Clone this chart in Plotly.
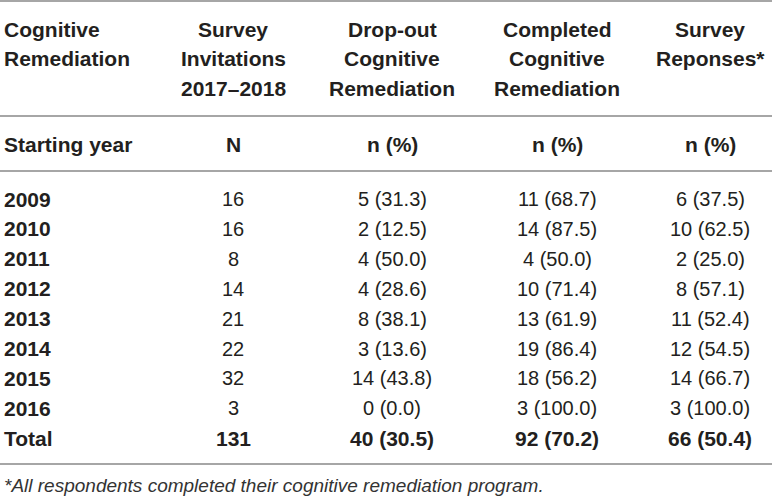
import plotly.graph_objects as go

# table content
header_lines = [
    ["Cognitive", "Remediation"],
    ["Survey", "Invitations", "2017–2018"],
    ["Drop-out", "Cognitive", "Remediation"],
    ["Completed", "Cognitive", "Remediation"],
    ["Survey", "Reponses*"],
]
subheaders = ["Starting year", "N", "n (%)", "n (%)", "n (%)"]

years = ["2009", "2010", "2011", "2012", "2013", "2014", "2015", "2016"]
invitations = [16, 16, 8, 14, 21, 22, 32, 3]
dropout_n = [5, 2, 4, 4, 8, 3, 14, 0]
dropout_pct = [31.3, 12.5, 50.0, 28.6, 38.1, 13.6, 43.8, 0.0]
completed_n = [11, 14, 4, 10, 13, 19, 18, 3]
completed_pct = [68.7, 87.5, 50.0, 71.4, 61.9, 86.4, 56.2, 100.0]
responses_n = [6, 10, 2, 8, 11, 12, 14, 3]
responses_pct = [37.5, 62.5, 25.0, 57.1, 52.4, 54.5, 66.7, 100.0]

total_label = "Total"
total_invitations = 131
total_dropout = (40, 30.5)
total_completed = (92, 70.2)
total_responses = (66, 50.4)

footnote = "*All respondents completed their cognitive remediation program."

W, H = 772, 498
col_x = [2, 233, 392, 557, 710]
header_y0, header_step = 29, 29.5
sub_y = 144
row_y0, row_step = 199, 29.9
rules_y = [1, 116, 171, 464]
foot_y = 485

ink = "#231f20"
bold = dict(family="Liberation Sans", size=21, color=ink, weight="bold")
plain = dict(family="Liberation Sans", size=20, color=ink)
ital = dict(family="Liberation Sans", size=19, color="#333333", style="italic")


def cell(fig, col, y, text, font):
    fig.add_annotation(
        x=col_x[col], y=y, xref="x", yref="y", text=text, showarrow=False,
        xanchor="left" if col == 0 else "center", yanchor="middle", font=font,
    )


def fmt(n, p):
    return f"{n} ({p:.1f})"


fig = go.Figure()

for c, lines in enumerate(header_lines):
    for i, line in enumerate(lines):
        cell(fig, c, header_y0 + i * header_step, line, bold)

for c, s in enumerate(subheaders):
    cell(fig, c, sub_y, s, bold)

for r, yr in enumerate(years):
    y = row_y0 + r * row_step
    cell(fig, 0, y, yr, bold)
    cell(fig, 1, y, str(invitations[r]), plain)
    cell(fig, 2, y, fmt(dropout_n[r], dropout_pct[r]), plain)
    cell(fig, 3, y, fmt(completed_n[r], completed_pct[r]), plain)
    cell(fig, 4, y, fmt(responses_n[r], responses_pct[r]), plain)

y = row_y0 + len(years) * row_step
cell(fig, 0, y, total_label, bold)
cell(fig, 1, y, str(total_invitations), bold)
cell(fig, 2, y, fmt(*total_dropout), bold)
cell(fig, 3, y, fmt(*total_completed), bold)
cell(fig, 4, y, fmt(*total_responses), bold)

cell(fig, 0, foot_y, footnote, ital)

for ry in rules_y:
    fig.add_shape(type="line", x0=0, x1=W, y0=ry, y1=ry, xref="x", yref="y",
                  line=dict(color="#a6a6a6", width=2))

fig.update_xaxes(range=[0, W], visible=False, fixedrange=True)
fig.update_yaxes(range=[H, 0], visible=False, fixedrange=True)
fig.update_layout(
    width=W, height=H, margin=dict(l=0, r=0, t=0, b=0),
    paper_bgcolor="white", plot_bgcolor="white", showlegend=False,
)

# drop the browser's default 8px body margin so the table sits at the page edge
fig.write_html("out.html", config={"displayModeBar": False},
               post_script="document.body.style.margin='0';")
